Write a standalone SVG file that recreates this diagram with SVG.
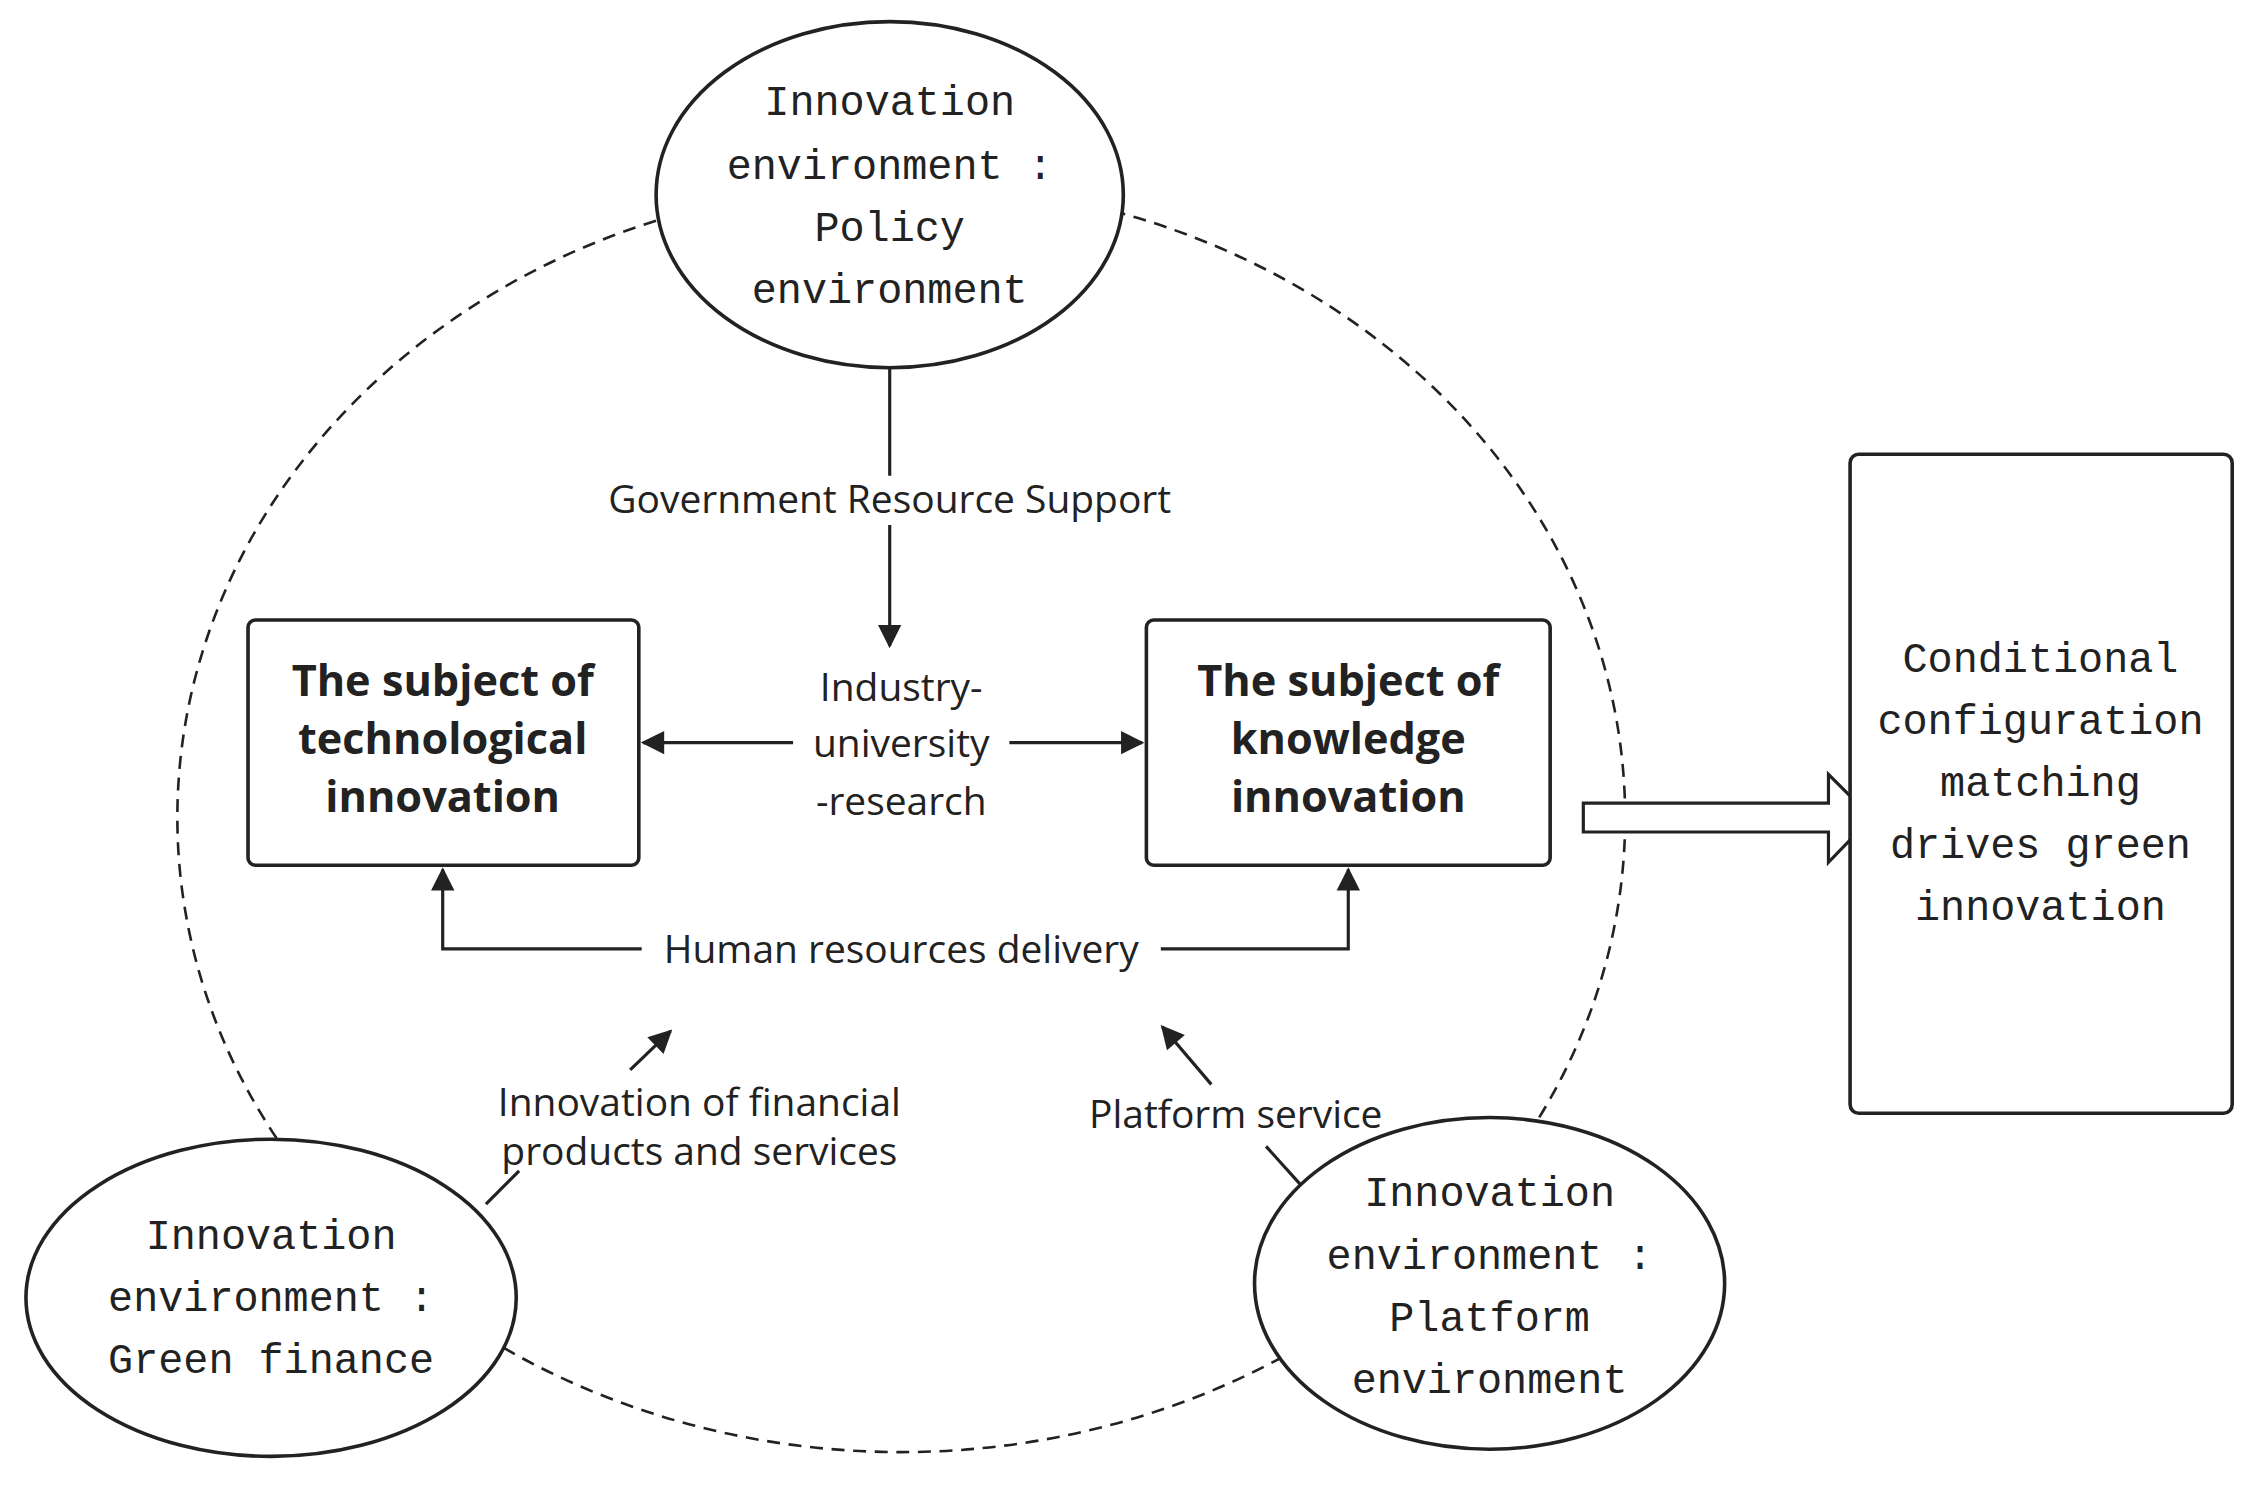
<svg xmlns="http://www.w3.org/2000/svg" width="2261" height="1487" viewBox="0 0 2261 1487">
<style>
.e{fill:#fff;stroke:#222;stroke-width:2.5}
.m{font-family:"Liberation Mono",monospace;font-size:29px;fill:#222;text-anchor:middle}
.b{font-family:"Open Sans","Liberation Sans",sans-serif;font-size:30px;font-weight:bold;fill:#222;text-anchor:middle}
.s{font-family:"Open Sans","Liberation Sans",sans-serif;font-size:27px;fill:#222;text-anchor:middle}
.l{fill:none;stroke:#222;stroke-width:2.2}
</style>
<defs><marker id="a" viewBox="0 0 10 10" refX="9" refY="5" markerWidth="9" markerHeight="9" markerUnits="userSpaceOnUse" orient="auto" style="overflow:visible"><path d="M0,0 L10,5 L0,10 z" fill="#222" transform="scale(1.8) translate(-4,-2.2)"/></marker></defs>
<rect width="2261" height="1487" fill="#fff"/>
<g transform="scale(1.442)">
<ellipse cx="625" cy="567" rx="502" ry="440" fill="none" stroke="#222" stroke-width="1.8" stroke-dasharray="9,6"/>
<g id="connectors">
<line class="l" x1="617" y1="255" x2="617" y2="330"/>
<line class="l" x1="617" y1="364" x2="617" y2="448" marker-end="url(#a)"/>
<rect x="400" y="330" width="435" height="34" fill="#fff"/>
<line class="l" x1="550" y1="515" x2="446" y2="515" marker-end="url(#a)"/>
<line class="l" x1="700" y1="515" x2="792" y2="515" marker-end="url(#a)"/>
<polyline class="l" points="445,658 307,658 307,603" marker-end="url(#a)"/>
<polyline class="l" points="805,658 935,658 935,603" marker-end="url(#a)"/>
<line class="l" x1="337" y1="835" x2="360" y2="812"/>
<line class="l" x1="437" y1="742" x2="465" y2="715" marker-end="url(#a)"/>
<line class="l" x1="905" y1="825" x2="878" y2="795"/>
<line class="l" x1="840" y1="752" x2="806" y2="712" marker-end="url(#a)"/>
<path d="M1098,557 H1268 V537 L1298,567 L1268,598 V577 H1098 Z" fill="#fff" stroke="#222" stroke-width="2.2"/>
</g>
<text class="s" x="617" y="356">Government Resource Support</text>
<text class="s" x="625" y="486">Industry-</text>
<text class="s" x="625" y="525">university</text>
<text class="s" x="625" y="565">-research</text>
<text class="s" x="625" y="668">Human resources delivery</text>
<text class="s" x="485" y="774">Innovation of financial</text>
<text class="s" x="485" y="808">products and services</text>
<text class="s" x="857" y="782">Platform service</text>
<g id="n_top"><ellipse class="e" cx="617" cy="135" rx="162" ry="120"/>
<text class="m" x="617" y="80">Innovation</text><text class="m" x="617" y="124">environment :</text><text class="m" x="617" y="167">Policy</text><text class="m" x="617" y="210">environment</text></g>
<g id="n_left"><ellipse class="e" cx="188" cy="900" rx="170" ry="110"/>
<text class="m" x="188" y="866">Innovation</text><text class="m" x="188" y="909">environment :</text><text class="m" x="188" y="952">Green finance</text></g>
<g id="n_right"><ellipse class="e" cx="1033" cy="890" rx="163" ry="115"/>
<text class="m" x="1033" y="836">Innovation</text><text class="m" x="1033" y="880">environment :</text><text class="m" x="1033" y="923">Platform</text><text class="m" x="1033" y="966">environment</text></g>
<g id="n_tech"><rect x="172" y="430" width="271" height="170" rx="5" fill="#fff" stroke="#222" stroke-width="2.5"/>
<text class="b" x="307" y="483">The subject of</text><text class="b" x="307" y="523">technological</text><text class="b" x="307" y="563">innovation</text></g>
<g id="n_know"><rect x="795" y="430" width="280" height="170" rx="5" fill="#fff" stroke="#222" stroke-width="2.5"/>
<text class="b" x="935" y="483">The subject of</text><text class="b" x="935" y="523">knowledge</text><text class="b" x="935" y="563">innovation</text></g>
<g id="n_out"><rect x="1283" y="315" width="265" height="457" rx="6" fill="#fff" stroke="#222" stroke-width="2.5"/>
<text class="m" x="1415" y="466">Conditional</text><text class="m" x="1415" y="509">configuration</text><text class="m" x="1415" y="552">matching</text><text class="m" x="1415" y="595">drives green</text><text class="m" x="1415" y="638">innovation</text></g>
</g>
</svg>
